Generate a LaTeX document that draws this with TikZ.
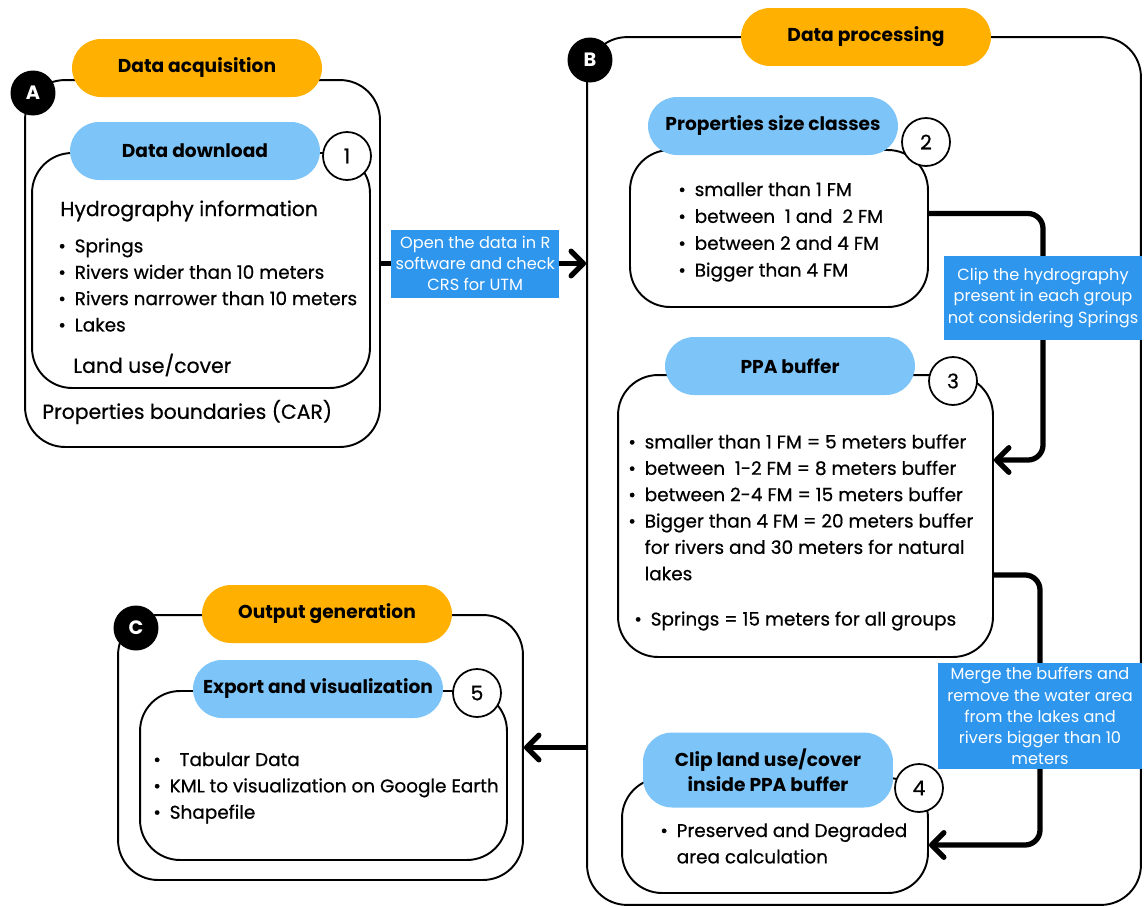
\documentclass[tikz,border=0pt]{standalone}
\usepackage{fontspec}
\setmainfont{Poppins}
\newfontfamily\medfont{Poppins}[FakeBold=0.6]
\usepackage{tikz}
\usetikzlibrary{arrows.meta,positioning,calc}
\definecolor{stageorange}{HTML}{FFB000}
\definecolor{pillblue}{HTML}{7DC4F8}
\definecolor{lblblue}{HTML}{2F96EE}
\newcommand{\bul}{\textbullet\hspace{5pt}}
\newcommand{\gap}{\phantom{\textbullet}\hspace{5pt}}

\begin{document}
\begin{tikzpicture}[
  x=0.02cm, y=-0.02cm,
  frame/.style={draw, line width=1.1pt, rounded corners=0.8cm},
  stage/.style={fill=stageorange, rounded corners=0.58cm, minimum width=5cm,
    minimum height=1.16cm, font=\bfseries\fontsize{10.6}{12}\selectfont},
  pill/.style={fill=pillblue, rounded corners=0.58cm, minimum width=5cm,
    minimum height=1.16cm, align=center,
    font=\bfseries\fontsize{10.6}{14.5}\selectfont},
  num/.style={circle, draw, line width=1pt, fill=white, minimum size=0.96cm,
    inner sep=0pt, font=\medfont\fontsize{11.5}{12}\selectfont},
  tag/.style={circle, fill=black, text=white, minimum size=0.9cm,
    inner sep=0pt, font=\bfseries\fontsize{11}{12}\selectfont},
  items/.style={anchor=north west, inner sep=0pt, align=left,
    font=\medfont\fontsize{10.5}{15}\selectfont},
  txt/.style={anchor=west, inner sep=0pt, font=\medfont\fontsize{10.5}{12}\selectfont},
  lbl/.style={fill=lblblue, text=white, align=center, inner sep=2pt,
    sharp corners, font=\fontsize{9.2}{12}\selectfont},
  arr/.style={-{Straight Barb[length=7pt, width=14pt, round]},
    line width=3pt, rounded corners=0.3cm}
]
  \useasboundingbox (0,0) rectangle (1144,907);

  % A: data acquisition
  \node[frame, minimum width=7.1cm, minimum height=7.34cm] (boxA) at (202.5,263.5) {};
  \node[frame, minimum width=6.76cm, minimum height=4.7cm] (inA) at (201,270.5) {};
  \node[tag] (tagA) at (33,93) {A};
  \node[stage] (stageA) at (197,68) {Data acquisition};
  \node[pill] (pill1) at (195,151) {Data download};
  \node[num] (num1) at (347,156) {1};
  \node[txt, font=\medfont\fontsize{11.6}{12}\selectfont] (hydro) at (60,211) {Hydrography information};
  \node[items] (listA) at (58,238) {\bul Springs\\ \bul Rivers wider than 10 meters\\
    \bul Rivers narrower than 10 meters\\ \bul Lakes};
  \node[txt, font=\medfont\fontsize{11.6}{12}\selectfont] (landA) at (73,365) {Land use/cover};
  \node[txt, font=\medfont\fontsize{11.6}{12}\selectfont] (carA) at (42,412) {Properties boundaries (CAR)};

  % B: data processing
  \node[frame, minimum width=11.08cm, minimum height=17.36cm] (boxB) at (864,471) {};
  \node[frame, minimum width=5.96cm, minimum height=3.14cm] (box2) at (779,228.5) {};
  \node[frame, minimum width=7.5cm, minimum height=5.64cm] (box3) at (805.5,516) {};
  \node[frame, minimum width=6.12cm, minimum height=2.3cm] (box4) at (775,835.5) {};
  \node[tag] (tagB) at (590,60) {B};
  \node[stage] (stageB) at (866,37) {Data processing};
  \node[pill] (pill2) at (773,126) {Properties size classes};
  \node[num] (num2) at (926,142) {2};
  \node[items, font=\medfont\fontsize{10.5}{15.3}\selectfont] (list2) at (678,182)
    {\bul smaller than 1 FM\\ \bul between\ \ 1 and\ \ 2 FM\\
    \bul between 2 and 4 FM\\ \bul Bigger than 4 FM};
  \node[pill] (pill3) at (790,366) {PPA buffer};
  \node[num] (num3) at (953,381) {3};
  \node[items] (list3) at (628,434) {\bul smaller than 1 FM = 5 meters buffer\\
    \bul between\ \ 1-2 FM = 8 meters buffer\\ \bul between 2-4 FM = 15 meters buffer\\
    \bul Bigger than 4 FM = 20 meters buffer\\ \gap for rivers and 30 meters for natural\\
    \gap lakes};
  \node[txt] (springs3) at (634,621) {\bul Springs = 15 meters for all groups};
  \node[pill, minimum height=1.5cm] (pill4) at (768,770) {Clip land use/cover\\inside PPA buffer};
  \node[num] (num4) at (919,788) {4};
  \node[items] (list4) at (660,823) {\bul Preserved and Degraded\\ \gap area calculation};

  % C: output generation
  \node[frame, minimum width=8.1cm, minimum height=5.3cm] (boxC) at (320.5,747.5) {};
  \node[frame, minimum width=7.34cm, minimum height=3.38cm] (inC) at (323.5,775.5) {};
  \node[tag] (tagC) at (136,628) {C};
  \node[stage] (stageC) at (327,614) {Output generation};
  \node[pill] (pill5) at (318,689) {Export and visualization};
  \node[num] (num5) at (477,693) {5};
  \node[items] (listC) at (153,752) {\bul\ \ Tabular Data\\
    \bul KML to visualization on Google Earth\\ \bul Shapefile};

  % connectors
  \draw[arr] (boxA.east) -- node[lbl, pos=0.46, minimum width=3.36cm, minimum height=1.36cm] (lblAB)
    {Open the data in R\\software and check\\CRS for UTM} (boxA.east -| boxB.west);
  \coordinate (clipc) at (1043,298);
  \draw[arr] ([yshift=0.3cm]box2.east) -| (clipc)
    node[lbl, minimum width=3.9cm, minimum height=1.7cm] (lblclip)
    {Clip the hydrography\\present in each group\\not considering Springs}
    |- ([yshift=1.12cm]box3.east);
  \coordinate (mergec) at (1040,716);
  \draw[arr] ([yshift=-1.18cm]box3.east) -| (mergec)
    node[lbl, minimum width=4.08cm, minimum height=2.14cm] (lblmerge)
    {Merge the buffers and\\remove the water area\\from the lakes and\\rivers bigger than 10\\meters}
    |- ([yshift=-0.19cm]box4.east);
  \draw[arr] (boxC.east -| boxB.west) -- (boxC.east);
\end{tikzpicture}
\end{document}
